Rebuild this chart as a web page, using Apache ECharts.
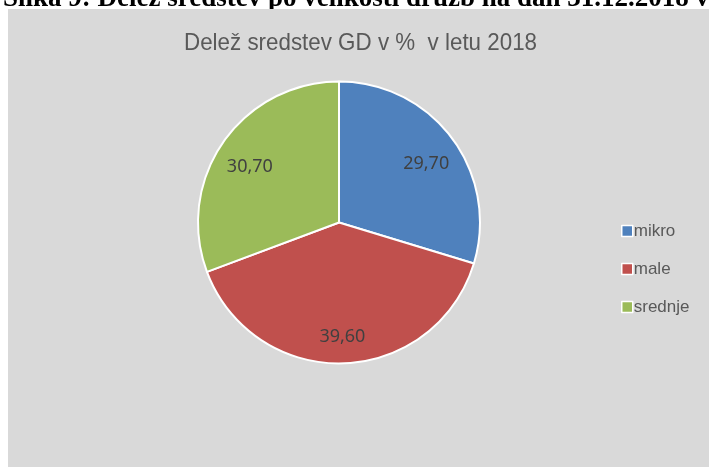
<!DOCTYPE html>
<html lang="sl">
<head>
    <meta charset="UTF-8">
    <title>Delež sredstev GD</title>
    <style>
        * {
            margin: 0px;
            padding: 0px;
        }

        #main {
            width: 709px;
            height: 467px;
            background-color: #ffffff
        }
    </style>
</head>
<body>
<div id="main"></div>
<script src="https://cdn.jsdelivr.net/npm/echarts@6/dist/echarts.min.js"></script>
<script type="text/javascript">
    // podatki
    var categories = ['mikro', 'male', 'srednje'];
    var values = [29.70, 39.60, 30.70];
    var colors = ['#4F81BD', '#C0504D', '#9BBB59'];

    var titleText = 'Delež sredstev GD v %  v letu 2018';
    var captionText = 'Slika 9: Delež sredstev po velikosti družb na dan 31.12.2018 v %';

    var pieData = categories.map(function (name, i) {
        return {name: name, value: values[i], itemStyle: {color: colors[i]}};
    });
    // druga (nevidna) serija samo za položaj oznak
    var labelData = categories.map(function (name, i) {
        return {name: name, value: values[i]};
    });

    // naslov je v originalu ozka pisava (Arial Narrow) -> stisnemo ga vodoravno
    var titleFont = '24px "Liberation Sans"';
    var ctx = document.createElement('canvas').getContext('2d');
    ctx.font = titleFont;
    var titleScale = 353 / ctx.measureText(titleText).width;

    var myChart = echarts.init(document.getElementById('main'));
    myChart.setOption({
        animation: false,
        graphic: [
            {
                type: 'text',
                x: 3,
                y: 13,
                style: {
                    text: captionText,
                    font: 'bold 27px "Liberation Serif"',
                    fill: '#000000',
                    verticalAlign: 'bottom'
                },
                z: -20
            },
            {
                type: 'rect',
                shape: {x: 8, y: 9, width: 701, height: 458},
                style: {fill: '#D9D9D9'},
                z: -10
            },
            {
                type: 'text',
                x: 360.5,
                y: 43.5,
                scaleX: titleScale,
                style: {
                    text: titleText,
                    font: titleFont,
                    fill: '#595959',
                    align: 'center',
                    verticalAlign: 'middle'
                }
            }
        ],
        legend: {
            orient: 'vertical',
            left: 616,
            top: 217,
            icon: 'rect',
            itemWidth: 11,
            itemHeight: 11,
            itemGap: 20,
            itemStyle: {borderColor: '#ffffff', borderWidth: 1.5},
            data: categories,
            textStyle: {
                fontFamily: 'Liberation Sans',
                fontSize: 17,
                lineHeight: 18,
                color: '#595959',
                padding: [0, 0, 0, -4]
            }
        },
        series: [
            {
                type: 'pie',
                center: [339, 222.5],
                radius: [0, 141],
                startAngle: 90,
                clockwise: true,
                data: pieData,
                itemStyle: {borderColor: '#ffffff', borderWidth: 2},
                label: {show: false},
                labelLine: {show: false},
                emphasis: {disabled: true}
            },
            {
                type: 'pie',
                center: [339, 222.5],
                radius: [70, 141],
                startAngle: 90,
                clockwise: true,
                silent: true,
                data: labelData,
                itemStyle: {color: 'rgba(0,0,0,0)'},
                label: {
                    show: true,
                    position: 'inside',
                    offset: [0, 6],
                    formatter: function (p) {
                        return p.value.toFixed(2).replace('.', ',');
                    },
                    fontFamily: 'Noto Sans',
                    fontSize: 18,
                    color: '#404040'
                },
                labelLine: {show: false},
                emphasis: {disabled: true}
            }
        ]
    });
</script>
</body>
</html>
